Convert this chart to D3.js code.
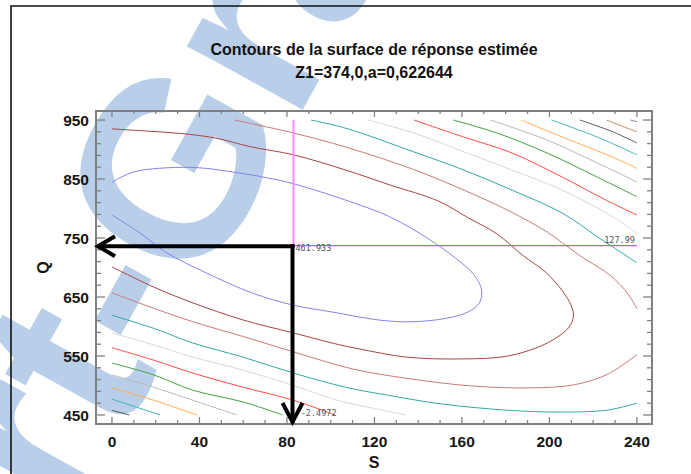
<!DOCTYPE html>
<html><head><meta charset="utf-8">
<script src="https://cdn.jsdelivr.net/npm/d3@7"></script>
<style>body{margin:0;background:#fff}svg{display:block}</style>
</head><body>
<svg id="c" width="691" height="474"></svg>
<script>
// ---------- data ----------
const titleLines = ["Contours de la surface de réponse estimée", "Z1=374,0,a=0,622644"];
const xLabel = "S", yLabel = "Q";
const sTickLabels = [0, 40, 80, 120, 160, 200, 240];
const qTickLabels = [450, 550, 650, 750, 850, 950];
const sExtent = [-7.3, 246.9];
const qExtent = [434.7, 965.3];

// contour lines [S, Q]
const level1 = [[0,845],[10,862],[25,869],[40,869],[55,862],[71,852],[83,842],[107,814],[127,786],[145,748],[157,716],[165,690],[169,662],[168,640],[163,625],[153,614],[137,608],[122,611],[100,625],[83,636],[64,657],[43,691],[25,725],[13,758],[0,789]];
const level2 = [[0,935],[17,931],[32,927],[48,919],[63,905],[83,891],[107,865],[127,840],[149,813],[163,784],[176,757],[188,720],[198,693],[206,660],[210,635],[211,618],[209,599],[199,572],[181,550],[160,545],[135,548],[113,562],[104,569],[83,589],[60,611],[37,640],[19,667],[0,701]];
const level3a = [[56,950],[83,928],[107,904],[138,866],[161,831],[181,797],[199,760],[214,720],[228,686],[236,655],[240,630]];
const level3b = [[240,552],[226,518],[211,501],[192,496],[165,499],[135,512],[110,528],[83,557],[60,583],[37,608],[19,631],[0,657]];
const level4a = [[91,950],[107,936],[138,896],[161,865],[183,831],[206,792],[222,752],[240,708]];
const level4b = [[240,470],[226,458],[203,455],[181,458],[150,469],[127,483],[108,496],[83,521],[60,548],[37,572],[19,597],[0,619]];
const level5a = [[117,950],[138,928],[161,896],[183,865],[206,831],[229,786],[240,758]];
const level5b = [[0,589],[19,569],[37,548],[60,526],[83,500],[104,474],[120,461],[134,450]];
const level6a = [[138,950],[161,921],[183,894],[206,853],[226,814],[240,789]];
const level6b = [[0,564],[19,543],[37,521],[60,497],[83,475],[102,450]];
const level7a = [[156,950],[176,928],[199,894],[222,853],[240,820]];
const level7b = [[0,538],[19,518],[37,492],[60,472],[78,450]];
const level8a = [[173,950],[199,916],[222,877],[240,845]];
const level8b = [[0,518],[19,497],[37,475],[57,450]];
const level9a = [[187,950],[206,921],[229,887],[240,868]];
const level9b = [[0,496],[19,475],[39,450]];
const level10a = [[201,950],[222,921],[240,891]];
const level10b = [[0,477],[22,450]];
const level11a = [[214,950],[229,930],[240,911]];
const level11b = [[0,458],[8,450]];
const level12a = [[226,950],[240,930]];
const level13a = [[237,950],[240,947]];

const contourData = [
  {level:1, pts:level1},{level:2, pts:level2},
  {level:3, pts:level3a},{level:3, pts:level3b},
  {level:4, pts:level4a},{level:4, pts:level4b},
  {level:5, pts:level5a},{level:5, pts:level5b},
  {level:6, pts:level6a},{level:6, pts:level6b},
  {level:7, pts:level7a},{level:7, pts:level7b},
  {level:8, pts:level8a},{level:8, pts:level8b},
  {level:9, pts:level9a},{level:9, pts:level9b},
  {level:10, pts:level10a},{level:10, pts:level10b},
  {level:11, pts:level11a},{level:11, pts:level11b},
  {level:12, pts:level12a},{level:13, pts:level13a}
];

// cross-hair point and probe values
const crossPoint = [83, 737];
const probeLabels = [
  {s:83, q:737, text:"461.933"},
  {s:240, q:737, text:"127.99"},
  {s:83, q:450, text:"-2.4972"}
];
const watermarkText = ["Smart-", "Graph"];

// ---------- styles ----------
const levelColors = {1:"#8484ec",2:"#a84444",3:"#cc7a7a",4:"#30a8a8",5:"#d8d8d8",6:"#ff4a4a",
  7:"#42a042",8:"#b8b8b8",9:"#ffae4a",10:"#40b6b6",11:"#5a5a5a",12:"#c8946a",13:"#888888"};
const FONT = "'Liberation Sans', Arial, Helvetica, sans-serif";

const svg = d3.select("#c");
svg.append("rect").attr("width",691).attr("height",474).attr("fill","#fff");

// watermark
const wm = svg.append("g").attr("transform","translate(200,295) rotate(-61)")
  .attr("font-family",FONT).attr("font-weight","bold").attr("font-size",250).attr("fill","#b9cfe9");
wm.append("text").attr("text-anchor","end").text(watermarkText[0]);
wm.append("text").attr("text-anchor","start").text(watermarkText[1]);

// outer border
svg.append("path").attr("d","M11,480 L11,6 L700,6").attr("fill","none").attr("stroke","#111").attr("stroke-width",1.6);

const x = d3.scaleLinear().domain(sExtent).range([96,652]);
const y = d3.scaleLinear().domain(qExtent).range([424,111]);

// title
svg.append("g").selectAll("text").data(titleLines).join("text")
  .attr("x",374).attr("y",(d,i)=>55+i*23).attr("text-anchor","middle")
  .attr("font-family",FONT).attr("font-weight","bold").attr("font-size",16).attr("fill","#111").text(d=>d);

// contours
const line = d3.line().x(d=>x(d[0])).y(d=>y(d[1])).curve(d3.curveCatmullRom.alpha(0.5));
svg.append("g").selectAll("path").data(contourData).join("path")
  .attr("d",d=>line(d.pts)).attr("fill","none")
  .attr("stroke",d=>levelColors[d.level]).attr("stroke-width",1);

// frame + ticks
const axisCol = "#808080";
const sMinor = d3.range(0,241,10), qMinor = d3.range(450,951,20);
const tickG = svg.append("g").attr("stroke",axisCol).attr("stroke-width",1.3);
function ticks(vals, isMajor){
  const B = isMajor ? 7 : 4;
  vals.forEach(v=>{
    const xv=x(v);
    tickG.append("line").attr("x1",xv).attr("x2",xv).attr("y1",424).attr("y2",424-B);
    tickG.append("line").attr("x1",xv).attr("x2",xv).attr("y1",111).attr("y2",111+B-1);
  });
}
function qticks(vals,isMajor){
  const L = isMajor ? 9 : 5;
  vals.forEach(v=>{
    const yv=y(v);
    tickG.append("line").attr("x1",96).attr("x2",96+L).attr("y1",yv).attr("y2",yv);
    tickG.append("line").attr("x1",652).attr("x2",652-L).attr("y1",yv).attr("y2",yv);
  });
}
ticks(sMinor.filter(v=>!sTickLabels.includes(v)),false); ticks(sTickLabels,true);
qticks(qMinor.filter(v=>!qTickLabels.includes(v)),false); qticks(qTickLabels,true);
svg.append("rect").attr("x",96).attr("y",111).attr("width",556).attr("height",313)
  .attr("fill","none").attr("stroke",axisCol).attr("stroke-width",2);

// tick labels
svg.append("g").selectAll("text").data(sTickLabels).join("text")
  .attr("x",d=>x(d)).attr("y",447).attr("text-anchor","middle")
  .attr("font-family",FONT).attr("font-weight","bold").attr("font-size",15.5).attr("fill","#161616").text(d=>d);
svg.append("g").selectAll("text").data(qTickLabels).join("text")
  .attr("x",89).attr("y",d=>y(d)+6).attr("text-anchor","end")
  .attr("font-family",FONT).attr("font-weight","bold").attr("font-size",15.5).attr("fill","#161616").text(d=>d);
svg.append("text").attr("x",374).attr("y",468).attr("text-anchor","middle")
  .attr("font-family",FONT).attr("font-weight","bold").attr("font-size",16).attr("fill","#161616").text(xLabel);
svg.append("text").attr("transform","translate(49,267.5) rotate(-90)").attr("text-anchor","middle")
  .attr("font-family",FONT).attr("font-weight","bold").attr("font-size",16).attr("fill","#161616").text(yLabel);

// cross-hair
const cx = x(crossPoint[0]), cy = y(crossPoint[1]);
svg.append("line").attr("x1",cx).attr("x2",cx).attr("y1",y(950)).attr("y2",cy)
  .attr("stroke","#ff88ff").attr("stroke-width",2);
svg.append("line").attr("x1",cx).attr("x2",x(240)).attr("y1",cy).attr("y2",cy)
  .attr("stroke","#ff44ff").attr("stroke-width",1.4);

// probe labels
const mono = "'DejaVu Sans Mono', monospace";
svg.append("text").attr("x",cx+2).attr("y",cy+5.5).attr("font-family",mono).attr("font-size",8.5)
  .attr("fill","#555").text(probeLabels[0].text);
svg.append("text").attr("x",x(probeLabels[1].s)-2).attr("y",cy-2.5).attr("text-anchor","end")
  .attr("font-family",mono).attr("font-size",8.5).attr("fill","#555").text(probeLabels[1].text);
svg.append("text").attr("x",cx+43).attr("y",y(probeLabels[2].q)+1).attr("text-anchor","end")
  .attr("font-family",mono).attr("font-size",8.5).attr("fill","#555").text(probeLabels[2].text);

// black arrows
const arrows = svg.append("g").attr("stroke","#000").attr("stroke-width",4).attr("fill","none");
const ax = cx-1, ay = cy+0.5, left = 97, bottom = 423;
arrows.append("path").attr("d",`M${ax+2},${ay} L${left},${ay}`);
arrows.append("path").attr("d",`M${left+18},${ay-10} L${left+1},${ay} L${left+18},${ay+10}`);
arrows.append("path").attr("d",`M${ax},${ay-2} L${ax},${bottom}`);
arrows.append("path").attr("d",`M${ax-10},${bottom-20} L${ax},${bottom-1} L${ax+10},${bottom-20}`);
</script>
</body></html>
